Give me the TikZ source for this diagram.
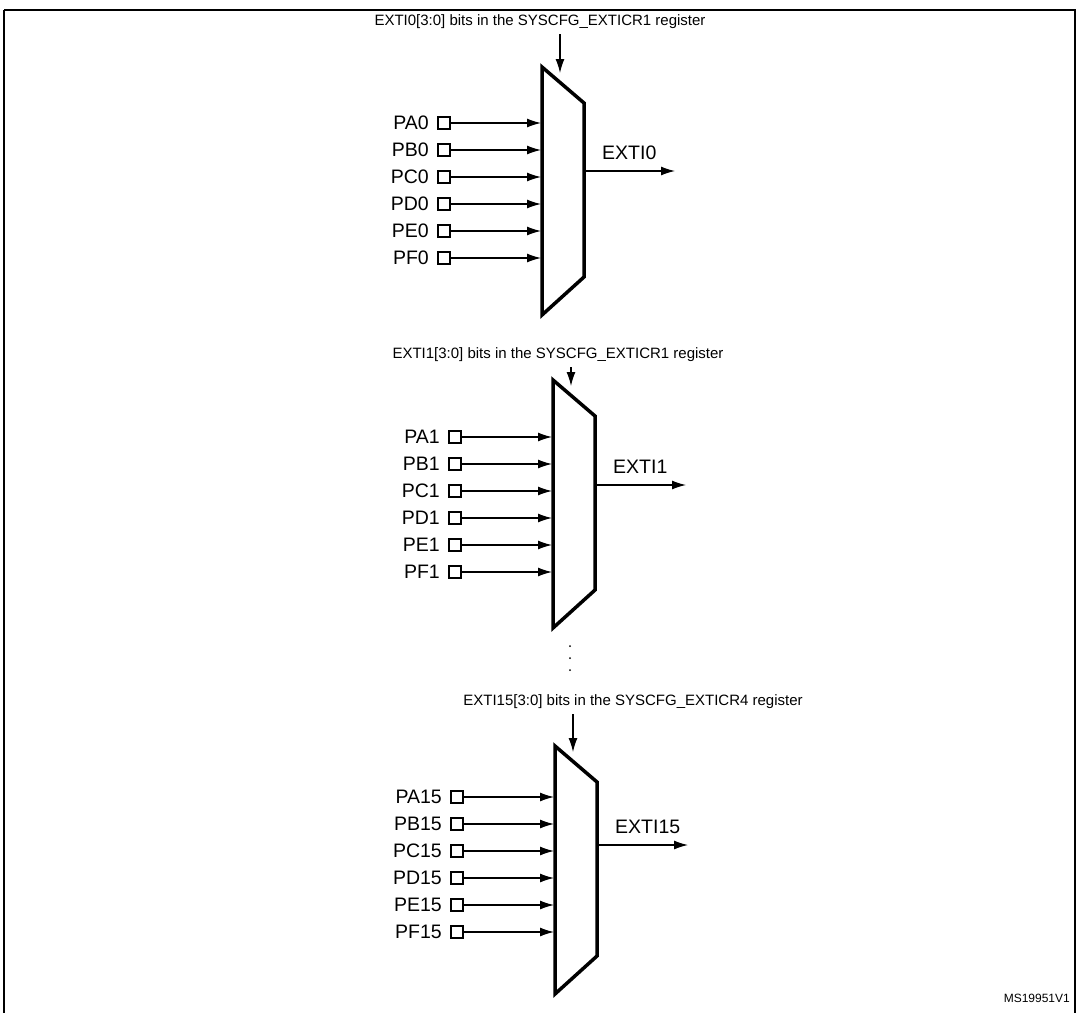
\documentclass[tikz,border=0pt]{standalone}
\usepackage{fontspec}
\setmainfont{Liberation Sans}
\usetikzlibrary{arrows.meta}
\begin{document}
\begin{tikzpicture}[x=1pt,y=-1pt,font=\fontsize{15}{17}\selectfont,
  muxshape/.style={line width=3.5pt,line join=miter},
  pinbox/.style={draw,line width=1.3pt,minimum size=12pt,inner sep=0pt},
  sig/.style={line width=1.3pt,-{Latex[length=14pt,width=9pt]}},
  lbl/.style={inner sep=0pt},
  big/.style={font=\fontsize{19.5}{22}\selectfont}]
\useasboundingbox (0,0) rectangle (1077,1013);
\draw[line width=1.6pt] (4,10) -- (4,1013) (4,10) -- (1075,10) -- (1075,1013);
\newcommand\muxdraw[7]{%
  \begin{scope}
  \draw[muxshape] (#1,#2) -- (#1+42,#2+36) -- (#1+42,#2+210) -- (#1,#2+248) -- cycle;
  \node[lbl] (t#4) at (#6,#7) {#5};
  \coordinate (ctl#4) at (#1+18,#7+12);
  \coordinate (ctle#4) at (#1+18,#2+6);
  \draw[sig] (ctl#4) -- (ctle#4);
  \foreach \p [count=\i from 0] in {A,B,C,D,E,F}{
    \node[pinbox] (b\p#4) at (#1-98,#3+\i*27) {};
    \node[lbl,big,anchor=east] (l\p#4) at (#1-113,#3+\i*27) {P\p#4};
    \coordinate (e\p#4) at (#1-1,#3+\i*27);
    \draw[sig] (b\p#4.east) -- (e\p#4);
  }
  \coordinate (os#4) at (#1+42,#3+48);
  \coordinate (oe#4) at (#1+133,#3+48);
  \draw[sig] (os#4) -- (oe#4);
  \node[lbl,big,anchor=west] (o#4) at (#1+60,#3+30) {EXTI#4};
  \end{scope}}
\muxdraw{542}{67}{123}{0}{EXTI0[3:0] bits in the SYSCFG\_EXTICR1 register}{540}{22}
\muxdraw{553}{380}{437}{1}{EXTI1[3:0] bits in the SYSCFG\_EXTICR1 register}{558}{355}
\muxdraw{555}{746}{797}{15}{EXTI15[3:0] bits in the SYSCFG\_EXTICR4 register}{633}{702}
\foreach \yy in {646,658,670} \fill (570,\yy) circle (1pt);
\node[lbl,anchor=east,font=\fontsize{12}{13}\selectfont] (ms) at (1070,998) {MS19951V1};
\end{tikzpicture}
\end{document}
